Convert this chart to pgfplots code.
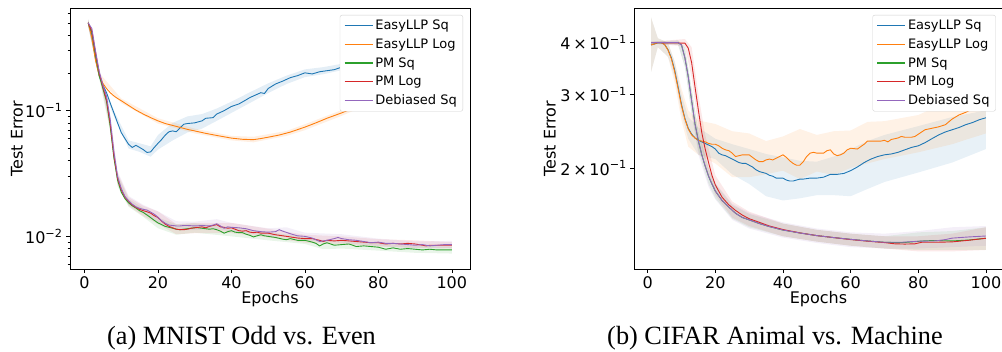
\documentclass[border=0pt]{standalone}
\usepackage{fontspec}
\setmainfont{DejaVu Sans}
\newfontfamily\capfont{Liberation Serif}
\usepackage{pgfplots}
\usepackage{pgfplotstable}
\pgfplotsset{compat=1.18}
\usepgfplotslibrary{fillbetween}
\definecolor{cB}{HTML}{1F77B4}
\definecolor{cO}{HTML}{FF7F0E}
\definecolor{cG}{HTML}{2CA02C}
\definecolor{cR}{HTML}{D62728}
\definecolor{cP}{HTML}{9467BD}
\newcommand\tkf{\fontsize{16}{19}\selectfont}
\newcommand\lgf{\fontsize{13}{15}\selectfont}

% ---------------- MNIST (left) ----------------
\pgfplotstableread{
x y
1 0.50
2 0.40
3 0.26
4 0.19
5 0.16
6 0.139
7 0.115
8 0.096
9 0.080
10 0.067
11 0.060
12 0.054
13 0.051
14 0.053
15 0.051
16 0.049
17 0.0465
18 0.047
19 0.051
20 0.055
21 0.059
22 0.064
23 0.068
24 0.069
25 0.068
26 0.073
27 0.078
28 0.079
30 0.080
32 0.083
33 0.087
35 0.088
36 0.094
38 0.100
40 0.108
42 0.113
44 0.122
45 0.127
46 0.131
48 0.139
49 0.137
50 0.150
52 0.163
54 0.172
56 0.183
58 0.190
60 0.200
62 0.196
64 0.204
66 0.208
68 0.212
70 0.222
72 0.228
75 0.236
78 0.244
80 0.250
83 0.256
86 0.262
90 0.270
93 0.276
96 0.283
100 0.290
}\lBm
\pgfplotstableread{
x lo hi
1 0.47 0.53
4 0.18 0.20
8 0.09 0.10
12 0.050 0.058
15 0.047 0.055
18 0.043 0.052
20 0.049 0.064
24 0.058 0.080
28 0.067 0.090
32 0.072 0.094
36 0.083 0.104
40 0.096 0.118
45 0.115 0.140
50 0.138 0.165
55 0.163 0.190
60 0.185 0.213
65 0.195 0.222
70 0.210 0.236
80 0.240 0.262
90 0.260 0.281
100 0.282 0.298
}\lBb
\pgfplotstableread{
x y
1 0.50
2 0.38
3 0.25
4 0.19
5 0.165
6 0.150
7 0.139
8 0.131
9 0.125
10 0.120
12 0.110
14 0.101
16 0.094
18 0.088
20 0.083
22 0.079
25 0.075
28 0.071
30 0.069
33 0.066
36 0.0635
40 0.0605
43 0.0592
46 0.0588
48 0.060
50 0.0615
53 0.064
56 0.0675
60 0.074
63 0.080
66 0.087
70 0.096
73 0.104
76 0.113
80 0.127
84 0.145
88 0.163
92 0.182
96 0.197
100 0.207
}\lOm
\pgfplotstableread{
x lo hi
1 0.48 0.52
4 0.18 0.20
10 0.115 0.125
20 0.079 0.087
30 0.066 0.072
40 0.058 0.063
46 0.056 0.062
55 0.063 0.069
60 0.070 0.078
70 0.091 0.101
80 0.121 0.134
90 0.164 0.182
100 0.197 0.217
}\lOb
\pgfplotstableread{
x y
1 0.50
2 0.42
3 0.28
4 0.19
5 0.15
6 0.118
7 0.075
8 0.042
9 0.028
10 0.0225
11 0.0200
12 0.0185
13 0.0175
14 0.0168
15 0.0160
16 0.0155
17 0.0148
18 0.0141
19 0.0134
20 0.0128
21 0.0124
22 0.0120
23 0.0118
24 0.0116
25 0.0114
26 0.0113
27 0.0114
28 0.0115
29 0.0116
30 0.0117
31 0.0117
32 0.0116
33 0.0115
34 0.0114
35 0.0115
36 0.0113
37 0.0110
38 0.0106
39 0.0109
40 0.0111
41 0.0108
42 0.0107
43 0.0107
44 0.0104
45 0.0102
46 0.0099
47 0.0101
48 0.0103
49 0.0101
50 0.0100
52 0.0098
54 0.0095
55 0.0094
56 0.0096
58 0.0093
60 0.0093
62 0.0090
63 0.0088
64 0.0084
65 0.0087
66 0.0089
67 0.0087
68 0.0085
70 0.0086
72 0.0087
73 0.0085
74 0.0083
76 0.0084
78 0.0083
80 0.0082
82 0.0079
84 0.0081
86 0.0079
88 0.0080
90 0.0079
92 0.0078
94 0.0079
96 0.0078
98 0.0078
100 0.0078
}\lGm
\pgfplotstableread{
x lo hi
1 0.47 0.53
4 0.18 0.21
7 0.068 0.082
9 0.025 0.031
12 0.0172 0.0198
16 0.0143 0.0168
20 0.0116 0.0141
25 0.0103 0.0125
30 0.0107 0.0127
40 0.0100 0.0118
50 0.0093 0.0108
60 0.0087 0.0099
65 0.0079 0.0093
70 0.0080 0.0092
80 0.0077 0.0088
90 0.0074 0.0084
100 0.0073 0.0083
}\lGb
\pgfplotstableread{
x y
1 0.50
2 0.43
3 0.29
4 0.20
5 0.155
6 0.122
7 0.079
8 0.044
9 0.029
10 0.0235
11 0.0205
12 0.0190
13 0.0178
14 0.0170
15 0.0164
16 0.0160
17 0.0157
18 0.0153
19 0.0146
20 0.0141
21 0.0132
22 0.0125
23 0.0120
24 0.0117
25 0.0114
26 0.0113
27 0.0113
28 0.0114
29 0.0116
30 0.0117
31 0.0118
32 0.0119
33 0.0117
34 0.0120
35 0.0122
36 0.0124
37 0.0119
38 0.0118
39 0.0116
40 0.0117
41 0.0114
42 0.0111
43 0.0110
44 0.0111
45 0.0108
46 0.0107
47 0.0108
48 0.0106
50 0.0106
52 0.0103
54 0.0101
56 0.0099
58 0.0097
60 0.0096
62 0.0096
64 0.0093
65 0.0091
66 0.0093
68 0.0092
70 0.0093
72 0.0092
74 0.0091
76 0.0090
78 0.0089
80 0.0089
82 0.0087
84 0.0088
86 0.0087
88 0.0088
90 0.0087
92 0.0085
93 0.0084
94 0.0085
96 0.0085
98 0.0085
100 0.0085
}\lRm
\pgfplotstableread{
x lo hi
1 0.47 0.53
4 0.19 0.21
7 0.071 0.087
9 0.026 0.032
12 0.0175 0.0205
16 0.0145 0.0175
20 0.0125 0.0158
25 0.0104 0.0125
30 0.0106 0.0128
40 0.0106 0.0128
50 0.0098 0.0115
60 0.0089 0.0103
70 0.0086 0.0100
80 0.0083 0.0095
90 0.0081 0.0093
100 0.0080 0.0090
}\lRb
\pgfplotstableread{
x y
1 0.50
2 0.45
3 0.30
4 0.205
5 0.16
6 0.13
7 0.085
8 0.047
9 0.030
10 0.024
11 0.0208
12 0.0192
13 0.0180
14 0.0172
15 0.0167
16 0.0164
17 0.0162
18 0.0156
19 0.0150
20 0.0142
21 0.0133
22 0.0127
23 0.0123
24 0.0122
25 0.0121
26 0.0121
27 0.0122
28 0.0122
30 0.0121
32 0.0122
34 0.0121
35 0.0123
36 0.0126
37 0.0121
38 0.0116
39 0.0119
40 0.0118
42 0.0117
44 0.0115
46 0.0111
48 0.0109
50 0.0108
52 0.0109
53 0.0113
54 0.0110
56 0.0105
58 0.0101
60 0.0100
62 0.0097
64 0.0091
66 0.0093
68 0.0096
69 0.0098
70 0.0096
72 0.0094
74 0.0093
76 0.0091
78 0.0089
80 0.0090
82 0.0088
84 0.0088
86 0.0087
88 0.0086
90 0.0085
92 0.0086
94 0.0084
96 0.0085
98 0.0086
100 0.0086
}\lPm
\pgfplotstableread{
x lo hi
1 0.47 0.53
4 0.19 0.22
7 0.076 0.094
9 0.027 0.033
12 0.0177 0.0210
16 0.0152 0.0178
20 0.0128 0.0158
25 0.0112 0.0132
30 0.0112 0.0131
36 0.0115 0.0137
40 0.0109 0.0128
50 0.0101 0.0116
55 0.0100 0.0118
60 0.0093 0.0107
70 0.0089 0.0104
80 0.0084 0.0096
90 0.0080 0.0091
100 0.0081 0.0092
}\lPb

% ---------------- CIFAR (right) ----------------
\pgfplotstableread{
x y
1 0.395
2 0.397
3 0.400
4 0.400
5 0.396
6 0.385
7 0.368
8 0.343
9 0.313
10 0.284
11 0.263
12 0.249
13 0.241
14 0.236
15 0.233
16 0.231
17 0.229
18 0.227
19 0.225
20 0.222
21 0.217
22 0.215
23 0.214
24 0.212
25 0.210
26 0.208
27 0.206
28 0.205
29 0.205
30 0.203
31 0.201
32 0.198
33 0.196
34 0.195
35 0.194
36 0.192
37 0.191
38 0.189
39 0.189
40 0.189
41 0.187
42 0.186
43 0.186
44 0.187
45 0.188
46 0.188
48 0.189
50 0.189
52 0.190
54 0.193
56 0.193
58 0.194
60 0.197
62 0.201
64 0.206
66 0.210
68 0.213
70 0.215
72 0.216
74 0.218
76 0.221
78 0.224
80 0.226
82 0.230
84 0.235
86 0.240
88 0.244
90 0.247
92 0.250
94 0.254
96 0.257
98 0.261
100 0.264
}\rBm
\pgfplotstableread{
x lo hi
1 0.34 0.46
3 0.39 0.41
6 0.37 0.40
8 0.33 0.36
10 0.27 0.30
12 0.235 0.265
15 0.215 0.250
20 0.210 0.235
25 0.193 0.228
30 0.183 0.222
35 0.171 0.216
40 0.167 0.212
45 0.169 0.208
50 0.172 0.207
55 0.172 0.213
60 0.171 0.222
65 0.178 0.232
70 0.185 0.240
80 0.195 0.252
90 0.206 0.265
100 0.222 0.275
}\rBb
\pgfplotstableread{
x y
1 0.395
2 0.397
3 0.400
4 0.400
5 0.396
6 0.384
7 0.366
8 0.340
9 0.310
10 0.282
11 0.262
12 0.248
13 0.240
14 0.236
15 0.233
16 0.232
17 0.231
18 0.229
19 0.228
20 0.228
21 0.226
22 0.223
23 0.221
24 0.220
25 0.217
26 0.213
27 0.214
28 0.215
29 0.215
30 0.215
31 0.212
32 0.209
33 0.207
34 0.207
35 0.209
36 0.210
37 0.209
38 0.211
39 0.213
40 0.215
41 0.212
42 0.208
43 0.205
44 0.203
45 0.203
46 0.207
47 0.213
48 0.217
49 0.218
50 0.217
52 0.217
53 0.220
54 0.221
55 0.216
56 0.214
57 0.215
58 0.217
59 0.221
60 0.223
62 0.222
64 0.228
65 0.232
67 0.232
69 0.232
70 0.233
71 0.231
72 0.234
74 0.236
75 0.238
76 0.237
78 0.237
79 0.238
80 0.241
82 0.247
84 0.249
86 0.251
88 0.254
89 0.258
90 0.262
92 0.268
94 0.272
96 0.277
98 0.280
100 0.283
}\rOm
\pgfplotstableread{
x lo hi
1 0.34 0.46
3 0.39 0.41
6 0.37 0.40
8 0.32 0.36
10 0.26 0.31
12 0.225 0.275
15 0.215 0.260
20 0.205 0.255
25 0.190 0.245
30 0.190 0.242
35 0.193 0.232
40 0.197 0.238
45 0.188 0.248
50 0.196 0.240
55 0.192 0.245
60 0.200 0.246
65 0.205 0.258
70 0.210 0.259
80 0.218 0.268
90 0.228 0.292
95 0.235 0.310
100 0.242 0.328
}\rOb
\pgfplotstableread{
x y
1 0.400
9 0.400
10 0.395
11 0.368
12 0.331
13 0.290
14 0.255
15 0.232
16 0.215
17 0.202
18 0.191
19 0.183
20 0.176
22 0.167
24 0.161
26 0.1555
28 0.152
30 0.150
33 0.147
36 0.1445
40 0.1418
45 0.1395
50 0.1375
55 0.1360
60 0.1347
65 0.1335
70 0.1325
75 0.1322
78 0.1328
82 0.1336
85 0.1338
90 0.1335
95 0.1342
100 0.1355
}\rGm
\pgfplotstableread{
x lo hi
1 0.398 0.402
9 0.395 0.405
11 0.350 0.390
13 0.270 0.310
15 0.220 0.245
18 0.183 0.200
20 0.169 0.183
25 0.151 0.163
30 0.144 0.155
40 0.137 0.147
50 0.133 0.142
60 0.130 0.139
70 0.128 0.137
80 0.127 0.140
90 0.127 0.141
100 0.127 0.144
}\rGb
\pgfplotstableread{
x y
1 0.400
11 0.399
12 0.388
13 0.358
14 0.313
15 0.275
16 0.243
17 0.222
18 0.206
19 0.192
20 0.182
22 0.170
24 0.163
26 0.158
28 0.154
30 0.151
33 0.148
36 0.145
40 0.1422
45 0.1396
50 0.1375
55 0.1360
60 0.1345
65 0.1333
70 0.1323
73 0.1314
76 0.1312
79 0.1314
81 0.1325
85 0.1325
90 0.1328
95 0.1340
100 0.1355
}\rRm
\pgfplotstableread{
x lo hi
1 0.398 0.402
11 0.392 0.408
13 0.330 0.390
15 0.250 0.300
17 0.205 0.240
20 0.172 0.192
25 0.152 0.166
30 0.145 0.157
40 0.137 0.147
50 0.133 0.142
60 0.130 0.139
70 0.128 0.137
80 0.126 0.137
90 0.126 0.139
100 0.127 0.144
}\rRb
\pgfplotstableread{
x y
1 0.400
9 0.400
10 0.395
11 0.368
12 0.331
13 0.290
14 0.255
15 0.232
16 0.215
17 0.202
18 0.191
19 0.183
20 0.176
22 0.167
24 0.161
26 0.1555
28 0.152
30 0.150
33 0.147
36 0.1445
40 0.1418
45 0.1395
50 0.1375
55 0.1360
60 0.1347
65 0.1335
70 0.1325
75 0.1325
80 0.1333
85 0.1335
88 0.1345
90 0.1356
95 0.1365
100 0.1372
}\rPm
\pgfplotstableread{
x lo hi
1 0.398 0.402
9 0.395 0.405
11 0.350 0.390
13 0.270 0.310
15 0.215 0.245
18 0.180 0.200
20 0.168 0.184
25 0.150 0.164
30 0.143 0.156
40 0.136 0.148
50 0.132 0.143
60 0.129 0.140
70 0.128 0.139
80 0.128 0.141
90 0.129 0.144
100 0.130 0.145
}\rPb

\begin{document}
\begin{tikzpicture}
\begin{axis}[at={(70pt,82pt)}, anchor=south west, width=400pt,
  scale only axis, ymode=log, height=261pt,
  xmin=-3.95, xmax=104.95,
  xtick={0,20,40,60,80,100},
  tick pos=left, tick align=outside,
  major tick length=4pt, minor tick length=2.5pt,
  tick style={black, line width=0.6pt},
  axis line style={line width=0.8pt},
  ticklabel style={font=\tkf},
  label style={font=\tkf},
  /pgf/number format/assume math mode=true,
  xlabel={Epochs},
  xlabel style={at={(axis description cs:0.5,-0.115)}, anchor=center},
  ylabel={Test Error},
  legend cell align=left,
  legend image code/.code={\draw[#1] (0pt,0pt) -- (28pt,0pt);},
  legend style={at={(1,1)}, anchor=north east, xshift=-7pt, yshift=-7pt,
    font=\lgf, draw=black!18, rounded corners=2pt, fill=white,
    inner xsep=4pt, inner ysep=3pt, row sep=3.6pt,
    /tikz/every even column/.append style={column sep=6pt}},
  ymin=0.0055, ymax=0.656,
  ytick={0.01,0.1}, yticklabels={10\textsuperscript{−2},10\textsuperscript{−1}},
  minor ytick={0.006,0.007,0.008,0.009,0.02,0.03,0.04,0.05,0.06,0.07,0.08,0.09,0.2,0.3,0.4,0.5,0.6},
  ylabel style={at={(axis description cs:-0.1325,0.5)}, anchor=center},
]
\addplot[draw=none, forget plot, name path=a1] table[x=x,y=lo] {\lBb};
\addplot[draw=none, forget plot, name path=a2] table[x=x,y=hi] {\lBb};
\addplot[fill=cB, fill opacity=0.12, draw=none, forget plot] fill between[of=a1 and a2];
\addplot[draw=none, forget plot, name path=b1] table[x=x,y=lo] {\lOb};
\addplot[draw=none, forget plot, name path=b2] table[x=x,y=hi] {\lOb};
\addplot[fill=cO, fill opacity=0.12, draw=none, forget plot] fill between[of=b1 and b2];
\addplot[draw=none, forget plot, name path=c1] table[x=x,y=lo] {\lGb};
\addplot[draw=none, forget plot, name path=c2] table[x=x,y=hi] {\lGb};
\addplot[fill=cG, fill opacity=0.10, draw=none, forget plot] fill between[of=c1 and c2];
\addplot[draw=none, forget plot, name path=d1] table[x=x,y=lo] {\lRb};
\addplot[draw=none, forget plot, name path=d2] table[x=x,y=hi] {\lRb};
\addplot[fill=cR, fill opacity=0.10, draw=none, forget plot] fill between[of=d1 and d2];
\addplot[draw=none, forget plot, name path=e1] table[x=x,y=lo] {\lPb};
\addplot[draw=none, forget plot, name path=e2] table[x=x,y=hi] {\lPb};
\addplot[fill=cP, fill opacity=0.10, draw=none, forget plot] fill between[of=e1 and e2];
\addplot[line width=0.9pt, color=cB, forget plot] table[x=x,y=y] {\lBm};
\addplot[line width=0.9pt, color=cO, forget plot] table[x=x,y=y] {\lOm};
\addplot[line width=0.9pt, color=cG, forget plot] table[x=x,y=y] {\lGm};
\addplot[line width=0.9pt, color=cR, forget plot] table[x=x,y=y] {\lRm};
\addplot[line width=0.9pt, color=cP, forget plot] table[x=x,y=y] {\lPm};
\addlegendimage{color=cB, line width=1.3pt}\addlegendentry{EasyLLP Sq}
\addlegendimage{color=cO, line width=1.3pt}\addlegendentry{EasyLLP Log}
\addlegendimage{color=cG, line width=1.3pt}\addlegendentry{PM Sq}
\addlegendimage{color=cR, line width=1.3pt}\addlegendentry{PM Log}
\addlegendimage{color=cP, line width=1.3pt}\addlegendentry{Debiased Sq}
\end{axis}

\begin{axis}[at={(634.3pt,82pt)}, anchor=south west, width=368.4pt,
  scale only axis, ymode=log, height=261pt,
  xmin=-3.95, xmax=104.95,
  xtick={0,20,40,60,80,100},
  tick pos=left, tick align=outside,
  major tick length=4pt, minor tick length=2.5pt,
  tick style={black, line width=0.6pt},
  axis line style={line width=0.8pt},
  ticklabel style={font=\tkf},
  label style={font=\tkf},
  /pgf/number format/assume math mode=true,
  xlabel={Epochs},
  xlabel style={at={(axis description cs:0.5,-0.115)}, anchor=center},
  ylabel={Test Error},
  legend cell align=left,
  legend image code/.code={\draw[#1] (0pt,0pt) -- (28pt,0pt);},
  legend style={at={(1,1)}, anchor=north east, xshift=-7pt, yshift=-7pt,
    font=\lgf, draw=black!18, rounded corners=2pt, fill=white,
    inner xsep=4pt, inner ysep=3pt, row sep=3.6pt,
    /tikz/every even column/.append style={column sep=6pt}},
  ymin=0.1143, ymax=0.4845,
  ytick={0.2,0.3,0.4}, minor ytick={},
  yticklabels={2\,×\,10\textsuperscript{−1},3\,×\,10\textsuperscript{−1},4\,×\,10\textsuperscript{−1}},
  ylabel style={at={(axis description cs:-0.229,0.5)}, anchor=center},
]
\addplot[draw=none, forget plot, name path=f1] table[x=x,y=lo] {\rBb};
\addplot[draw=none, forget plot, name path=f2] table[x=x,y=hi] {\rBb};
\addplot[fill=cB, fill opacity=0.10, draw=none, forget plot] fill between[of=f1 and f2];
\addplot[draw=none, forget plot, name path=g1] table[x=x,y=lo] {\rOb};
\addplot[draw=none, forget plot, name path=g2] table[x=x,y=hi] {\rOb};
\addplot[fill=cO, fill opacity=0.10, draw=none, forget plot] fill between[of=g1 and g2];
\addplot[draw=none, forget plot, name path=h1] table[x=x,y=lo] {\rGb};
\addplot[draw=none, forget plot, name path=h2] table[x=x,y=hi] {\rGb};
\addplot[fill=cG, fill opacity=0.10, draw=none, forget plot] fill between[of=h1 and h2];
\addplot[draw=none, forget plot, name path=i1] table[x=x,y=lo] {\rRb};
\addplot[draw=none, forget plot, name path=i2] table[x=x,y=hi] {\rRb};
\addplot[fill=cR, fill opacity=0.10, draw=none, forget plot] fill between[of=i1 and i2];
\addplot[draw=none, forget plot, name path=j1] table[x=x,y=lo] {\rPb};
\addplot[draw=none, forget plot, name path=j2] table[x=x,y=hi] {\rPb};
\addplot[fill=cP, fill opacity=0.10, draw=none, forget plot] fill between[of=j1 and j2];
\addplot[line width=0.9pt, color=cB, forget plot] table[x=x,y=y] {\rBm};
\addplot[line width=0.9pt, color=cO, forget plot] table[x=x,y=y] {\rOm};
\addplot[line width=0.9pt, color=cG, forget plot] table[x=x,y=y] {\rGm};
\addplot[line width=0.9pt, color=cR, forget plot] table[x=x,y=y] {\rRm};
\addplot[line width=0.9pt, color=cP, forget plot] table[x=x,y=y] {\rPm};
\addlegendimage{color=cB, line width=1.3pt}\addlegendentry{EasyLLP Sq}
\addlegendimage{color=cO, line width=1.3pt}\addlegendentry{EasyLLP Log}
\addlegendimage{color=cG, line width=1.3pt}\addlegendentry{PM Sq}
\addlegendimage{color=cR, line width=1.3pt}\addlegendentry{PM Log}
\addlegendimage{color=cP, line width=1.3pt}\addlegendentry{Debiased Sq}
\end{axis}

\node[anchor=base, font=\capfont\fontsize{26.3}{30}\selectfont] at (241.5pt,6pt) {(a) MNIST Odd vs. Even};
\node[anchor=base, font=\capfont\fontsize{26.3}{30}\selectfont] at (775pt,6pt) {(b) CIFAR Animal vs. Machine};
\pgfresetboundingbox
\path[use as bounding box] (0pt,0pt) rectangle (1002pt,351pt);
\end{tikzpicture}
\end{document}
